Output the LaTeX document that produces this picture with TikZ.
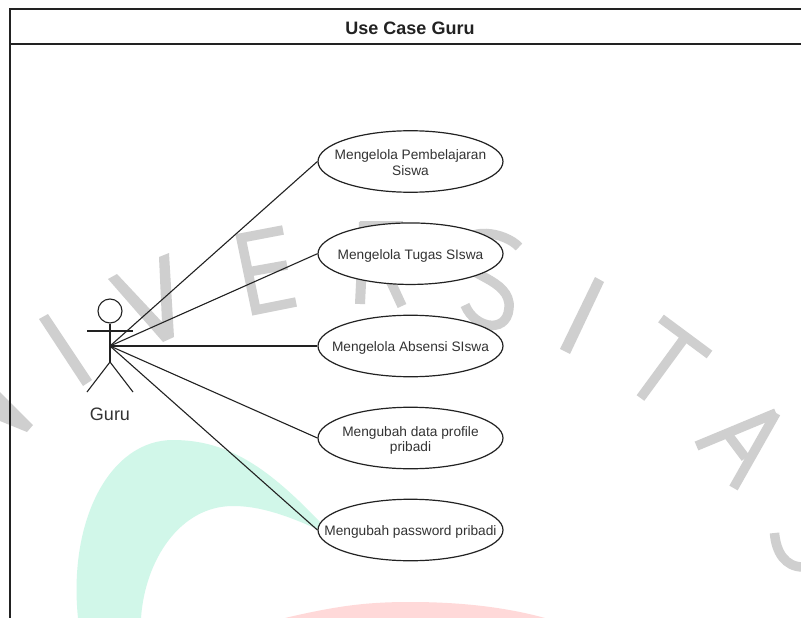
\documentclass[tikz,border=0pt]{standalone}
\usepackage{fontspec}
\setmainfont{Liberation Sans}
\usetikzlibrary{shapes.geometric}
\definecolor{wmgray}{HTML}{CFCFCF}
\definecolor{wmgreen}{HTML}{D1F7E9}
\definecolor{wmpink}{HTML}{FFD9D9}
\definecolor{inkline}{HTML}{222222}
\definecolor{inktext}{HTML}{333333}
\newcommand{\ucline}[1]{\raisebox{-5.8pt}[0pt][0pt]{\makebox[0pt][c]{#1}}}
\tikzset{
  wmstroke/.style={draw=wmgray,line width=9.5pt,line cap=butt},
  wmfill/.style={fill=wmgray,draw=none},
  frameline/.style={draw=inkline,line width=1.2pt},
  usecase/.style={ellipse,draw=inkline,fill=white,line width=1.2pt,minimum width=185pt,minimum height=61.5pt,inner sep=0pt,align=center,text=inktext,font=\fontsize{13.7}{15.5}\selectfont},
  assoc/.style={draw=inkline,line width=1.1pt},
  stick/.style={draw=inkline,line width=1.1pt},
  titletext/.style={text=inkline,font=\fontsize{18}{20}\selectfont\bfseries,inner sep=0pt},
  actortext/.style={text=inktext,font=\fontsize{18}{20}\selectfont,inner sep=0pt}
}
\begin{document}
\begin{tikzpicture}[x=1pt,y=-1pt]
\useasboundingbox (0,0) rectangle (801,618);
\clip (0,0) rectangle (801,618);
\fill[white] (0,0) rectangle (801,618);
% swooshes
\fill[wmgreen] (78,618) .. controls (68,520) and (110,440) .. (173,440) .. controls (230,440) and (270,470) .. (320,522) -- (319,530) .. controls (280,512) and (255,506) .. (233,506) .. controls (180,506) and (145,560) .. (141,618) -- cycle;
\fill[wmpink] (285,618) .. controls (340,605) and (370,602) .. (410,602) .. controls (460,602) and (505,607) .. (545,618) -- cycle;
% watermark letters
\fill[wmfill] (0,392) -- (33,425) -- (27,432) -- (0,421) -- cycle;
\fill[wmfill] (39,319) -- (48,314) -- (92,380) -- (83,386) -- cycle;
\fill[wmfill] (108,279) -- (117,274) -- (162,322) -- (159,257) -- (169,253) -- (174,337) -- (163,342) -- cycle;
\draw[wmstroke,line join=miter] (283,230) -- (241,238) -- (256,310) -- (296,302);
\draw[wmstroke] (248,272) -- (287,265);
\draw[wmstroke,line width=10pt] (364,222) -- (360,304);
\draw[wmstroke] (360,226) -- (403,226);
\draw[wmstroke] (390,280) -- (402,306);
\draw[wmstroke] (519,247) .. controls (505,232) and (465,225) .. (460,250) .. controls (455,275) and (505,275) .. (509,303) .. controls (511,335) and (475,330) .. (465,305);
\fill[wmfill] (595,277) -- (604,282) -- (570,354) -- (560,349) -- cycle;
\draw[wmstroke] (661,318.5) -- (709.5,354.5);
\draw[wmstroke] (640.5,398) -- (683,340);
\draw[wmstroke] (696.5,446) -- (776,413);
\draw[wmstroke] (733.5,488) -- (776,413);
\draw[wmstroke] (729,436) -- (745.5,458);
\draw[wmstroke] (774.5,533) .. controls (776,552) and (785,567) .. (803,567);
% frame
\draw[frameline] (10,618) -- (10,9) -- (801,9);
\draw[frameline] (10,44) -- (801,44);
\node[titletext] (title) at (410,28) {Use Case Guru};
% actor
\coordinate (hub) at (110,346);
\coordinate (hip) at (110,362);
\coordinate (armL) at (87,331);
\coordinate (armR) at (133,331);
\coordinate (legL) at (87,392);
\coordinate (legR) at (133,392);
\node[circle,draw=inkline,line width=1.1pt,minimum size=24pt,inner sep=0pt] (head) at (110,311) {};
\draw[stick] (head.south) -- (hip);
\draw[stick] (armL) -- (armR);
\draw[stick] (legL) -- (hip) -- (legR);
\node[actortext] (guru) at (110,414.5) {Guru};
% use cases
\node[usecase] (uc1) at (410.5,161.5) {\ucline{Mengelola Pembelajaran}\\\ucline{Siswa}};
\node[usecase] (uc2) at (410.5,253.7) {\ucline{Mengelola Tugas SIswa}};
\node[usecase] (uc3) at (410.5,346) {\ucline{Mengelola Absensi SIswa}};
\node[usecase] (uc4) at (410.5,438) {\ucline{Mengubah data profile}\\\ucline{pribadi}};
\node[usecase] (uc5) at (410.5,530) {\ucline{Mengubah password pribadi}};
% connectors
\foreach \u in {uc1,uc2,uc3,uc4,uc5}{\draw[assoc] (hub) -- (\u.west);}
\end{tikzpicture}
\end{document}
